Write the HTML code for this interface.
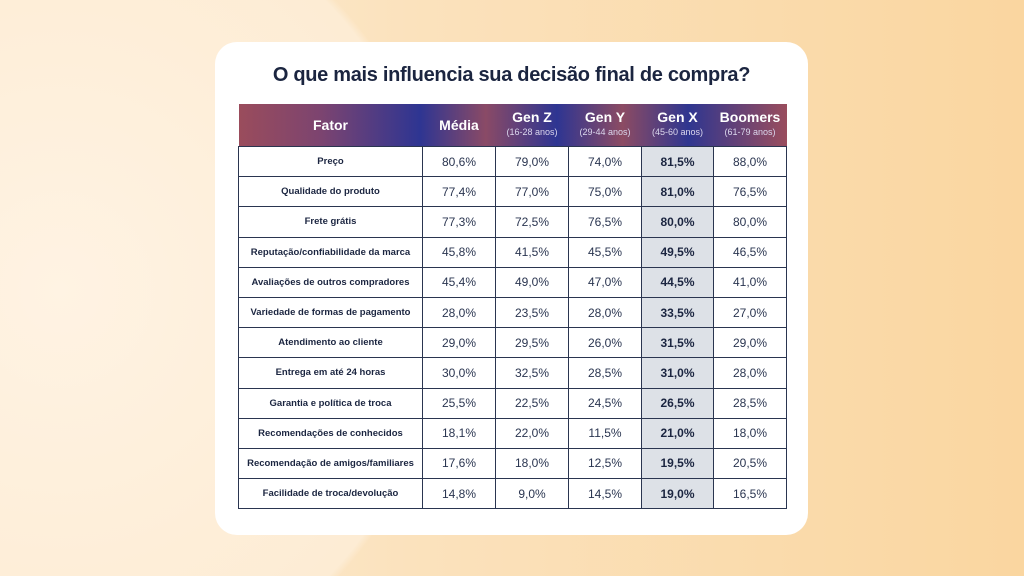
<!DOCTYPE html>
<html><head><meta charset="utf-8"><style>
html,body{margin:0;padding:0;width:1024px;height:576px;overflow:hidden}
body{position:relative;font-family:"Liberation Sans",sans-serif;
background:radial-gradient(ellipse 390px 410px at 60px 290px,#fff3e3 0%,#fdecd4 98%,rgba(253,236,212,0) 100%),linear-gradient(90deg,#fdefd9 0%,#fbe2bd 40%,#fad6a0 100%);}
.card{position:absolute;left:215px;top:42px;width:593px;height:493px;background:#fff;border-radius:22px}
h1{position:absolute;left:215px;top:64px;width:593px;margin:0;text-align:center;font-size:20px;font-weight:bold;color:#1b2540;letter-spacing:-0.3px}
table{position:absolute;left:238px;top:104px;border-collapse:collapse;width:548px;table-layout:fixed}
th{height:42px;color:#fff;font-size:14px;font-weight:bold;padding:0;line-height:15px}
th small{display:block;font-size:9px;font-weight:normal;color:#dcd8ee}
thead tr{background:linear-gradient(90deg,#9a4c5c 0%,#7c4470 15%,#2e3592 33%,#8a4a66 45%,#2e3592 58%,#8c4b63 70%,#2f3690 82%,#9a4d5d 100%)}
td{height:29.2px;border:1px solid #2a3550;text-align:center;font-size:12px;color:#2a3550;padding:0}
td:first-child{font-size:9.5px;font-weight:bold;color:#1b2540}
td:nth-child(5){background:#dde1e7;font-weight:bold;color:#1b2540}
</style></head><body>
<div class="card"></div>
<h1>O que mais influencia sua decisão final de compra?</h1>
<table>
<colgroup><col style="width:184px"><col style="width:73px"><col style="width:73px"><col style="width:73px"><col style="width:72px"><col style="width:73px"></colgroup>
<thead><tr><th>Fator</th><th>Média</th><th>Gen Z<small>(16-28 anos)</small></th><th>Gen Y<small>(29-44 anos)</small></th><th>Gen X<small>(45-60 anos)</small></th><th>Boomers<small>(61-79 anos)</small></th></tr></thead>
<tbody>
<tr><td>Preço</td><td>80,6%</td><td>79,0%</td><td>74,0%</td><td>81,5%</td><td>88,0%</td></tr>
<tr><td>Qualidade do produto</td><td>77,4%</td><td>77,0%</td><td>75,0%</td><td>81,0%</td><td>76,5%</td></tr>
<tr><td>Frete grátis</td><td>77,3%</td><td>72,5%</td><td>76,5%</td><td>80,0%</td><td>80,0%</td></tr>
<tr><td>Reputação/confiabilidade da marca</td><td>45,8%</td><td>41,5%</td><td>45,5%</td><td>49,5%</td><td>46,5%</td></tr>
<tr><td>Avaliações de outros compradores</td><td>45,4%</td><td>49,0%</td><td>47,0%</td><td>44,5%</td><td>41,0%</td></tr>
<tr><td>Variedade de formas de pagamento</td><td>28,0%</td><td>23,5%</td><td>28,0%</td><td>33,5%</td><td>27,0%</td></tr>
<tr><td>Atendimento ao cliente</td><td>29,0%</td><td>29,5%</td><td>26,0%</td><td>31,5%</td><td>29,0%</td></tr>
<tr><td>Entrega em até 24 horas</td><td>30,0%</td><td>32,5%</td><td>28,5%</td><td>31,0%</td><td>28,0%</td></tr>
<tr><td>Garantia e política de troca</td><td>25,5%</td><td>22,5%</td><td>24,5%</td><td>26,5%</td><td>28,5%</td></tr>
<tr><td>Recomendações de conhecidos</td><td>18,1%</td><td>22,0%</td><td>11,5%</td><td>21,0%</td><td>18,0%</td></tr>
<tr><td>Recomendação de amigos/familiares</td><td>17,6%</td><td>18,0%</td><td>12,5%</td><td>19,5%</td><td>20,5%</td></tr>
<tr><td>Facilidade de troca/devolução</td><td>14,8%</td><td>9,0%</td><td>14,5%</td><td>19,0%</td><td>16,5%</td></tr>
</tbody></table>
</body></html>
